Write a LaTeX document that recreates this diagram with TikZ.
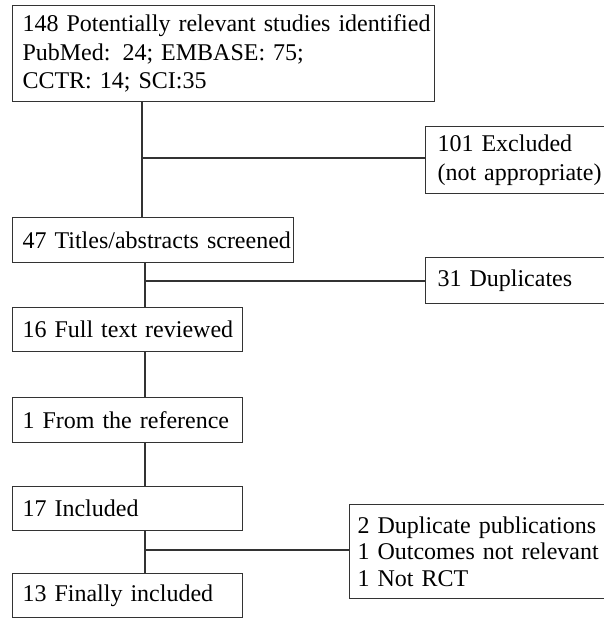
\documentclass[tikz,border=0pt]{standalone}
\usepackage{fontspec}
\setmainfont{Liberation Serif}

\tikzstyle{stage}=[draw=black!80,line width=1.1pt,anchor=north west,align=left,inner xsep=10pt,inner ysep=0pt,font=\fontsize{24}{28.5}\selectfont]
\tikzstyle{link}=[draw=black!80,line width=1.1pt]

\begin{document}
\begin{tikzpicture}[x=1pt,y=-1pt]

   \useasboundingbox (0,0) rectangle (604,618);

   % Search and first exclusion

   \node[stage,text width=402,minimum height=96] (ident) at (12,5)
{\mbox{148 Potentially relevant studies identified}\\\mbox{PubMed: 24; EMBASE: 75;}\\\mbox{CCTR: 14; SCI:35}};
   \node[stage,text width=170,minimum height=67,inner xsep=12pt] (excl) at (425,126)
{\mbox{101 Excluded}\\\mbox{(not appropriate)}};

   \node[stage,text width=261,minimum height=45] (screen) at (12,217) {\mbox{47 Titles/abstracts screened}};
   \node[stage,text width=170,minimum height=46,inner xsep=12pt] (dupl) at (425,257) {\mbox{31 Duplicates}};

   \coordinate (j1) at (142,158);
   \draw[link] (ident.south -| j1) -- (screen.north -| j1);
   \draw[link] (j1) -- (j1 -| excl.west);

   % Review stages

   \node[stage,text width=210,minimum height=44] (full) at (12,307) {\mbox{16 Full text reviewed}};
   \node[stage,text width=210,minimum height=45] (ref) at (12,397) {\mbox{1 From the reference}};
   \node[stage,text width=210,minimum height=44] (incl) at (12,486) {\mbox{17 Included}};
   \node[stage,text width=210,minimum height=44] (final) at (12,573) {\mbox{13 Finally included}};

   \node[stage,text width=250,minimum height=94,inner xsep=8pt,
font=\fontsize{24}{26.5}\selectfont] (other) at (349,504)
{\mbox{2 Duplicate publications}\\\mbox{1 Outcomes not relevant}\\\mbox{1 Not RCT}};

   \coordinate (j2) at (145,281);
   \coordinate (j3) at (145,550);

   \draw[link] (screen.south -| j2) -- (full.north -| j2);
   \draw[link] (j2) -- (j2 -| dupl.west);
   \draw[link] (full.south -| j2) -- (ref.north -| j2);
   \draw[link] (ref.south -| j2) -- (incl.north -| j2);
   \draw[link] (incl.south -| j3) -- (final.north -| j3);
   \draw[link] (j3) -- (j3 -| other.west);

\end{tikzpicture}
\end{document}
